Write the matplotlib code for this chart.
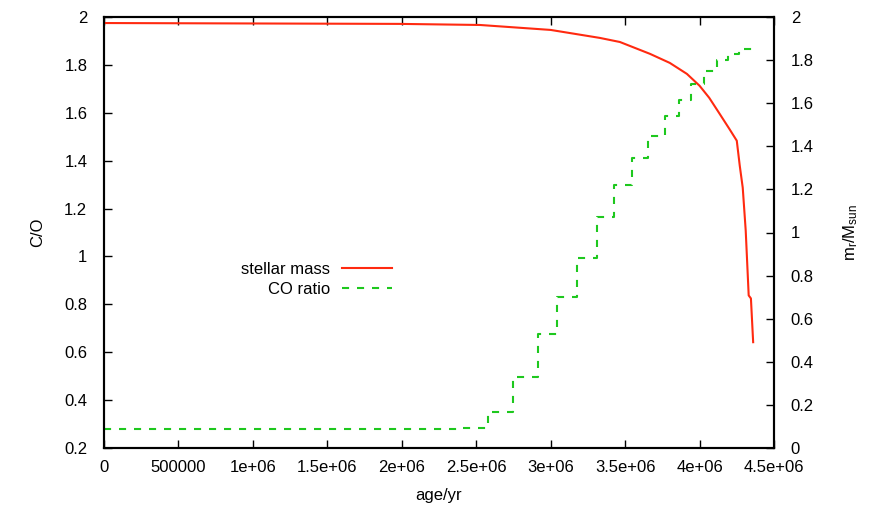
import numpy as np
import matplotlib
matplotlib.use("Agg")
import matplotlib.pyplot as plt

plt.rcParams['font.family'] = ['Liberation Sans', 'DejaVu Sans']
plt.rcParams['mathtext.fontset'] = 'custom'
plt.rcParams['mathtext.rm'] = 'Liberation Sans'
plt.rcParams['mathtext.it'] = 'Liberation Sans'

# stellar mass (right axis, m_r/M_sun)
mass_age = [0, 1.99e6, 2.525e6, 3.0e6, 3.33e6, 3.465e6, 3.667e6, 3.80e6, 3.915e6,
            4.0e6, 4.065e6, 4.13e6, 4.20e6, 4.25e6, 4.27e6, 4.29e6, 4.31e6,
            4.33e6, 4.345e6, 4.36e6]
mass = [1.972, 1.968, 1.963, 1.940, 1.903, 1.884, 1.829, 1.787, 1.736,
        1.681, 1.625, 1.556, 1.481, 1.426, 1.310, 1.208, 1.009,
        0.708, 0.694, 0.491]

# C/O ratio (left axis), step function
co_age = [0, 2.37e6, 2.58e6, 2.745e6, 2.915e6, 3.04e6, 3.18e6, 3.31e6, 3.425e6,
          3.545e6, 3.655e6, 3.77e6, 3.86e6, 3.94e6, 4.03e6, 4.115e6, 4.19e6,
          4.265e6, 4.36e6]
co_ratio = [0.279, 0.283, 0.35, 0.496, 0.675, 0.829, 0.992, 1.164, 1.30,
            1.4125, 1.504, 1.588, 1.653, 1.72, 1.775, 1.82, 1.847,
            1.865, 1.865]

xticks = [0, 5e5, 1e6, 1.5e6, 2e6, 2.5e6, 3e6, 3.5e6, 4e6, 4.5e6]
xlabels = ['0', '500000', '1e+06', '1.5e+06', '2e+06', '2.5e+06', '3e+06',
           '3.5e+06', '4e+06', '4.5e+06']
left_ticks = [0.2, 0.4, 0.6, 0.8, 1.0, 1.2, 1.4, 1.6, 1.8, 2.0]
right_ticks = [0, 0.2, 0.4, 0.6, 0.8, 1.0, 1.2, 1.4, 1.6, 1.8, 2.0]

red = '#ff2a10'
green = '#1ec81e'
fs = 12

fig = plt.figure(figsize=(8.7, 5.12), dpi=100)
ax = fig.add_axes([104 / 870, 64 / 512, 670 / 870, 431 / 512])
ax2 = ax.twinx()

l1, = ax2.plot(mass_age, mass, color=red, lw=1.5, label='stellar mass')
l2, = ax.plot(co_age, co_ratio, color=green, lw=1.5, drawstyle='steps-post',
              dashes=(3.4, 3.8), label='CO ratio')

ax.set_xlim(0, 4.5e6)
ax.set_ylim(0.2, 2)
ax2.set_ylim(0, 2)

ax.set_xticks(xticks)
ax.set_xticklabels(xlabels)
ax.set_yticks(left_ticks)
ax.set_yticklabels(['%g' % v for v in left_ticks])
ax2.set_yticks(right_ticks)
ax2.set_yticklabels(['%g' % v for v in right_ticks])

ax.tick_params(axis='x', direction='in', top=True, length=6, width=1, labelsize=fs, pad=9)
ax.tick_params(axis='y', direction='in', length=6, width=1, labelsize=fs, pad=12)
ax2.tick_params(axis='y', direction='in', length=6, width=1, labelsize=fs, pad=12)

for a in (ax, ax2):
    for s in a.spines.values():
        s.set_linewidth(1.5)

ax.set_xlabel('age/yr', fontsize=fs, labelpad=9)
ax.set_ylabel('C/O', fontsize=fs, labelpad=14)
ax2.set_ylabel(r'm$_\mathrm{r}$/M$_\mathrm{sun}$', fontsize=fs, labelpad=20)

ax2.legend([l1, l2], ['stellar mass', 'CO ratio'], loc='center right',
           bbox_to_anchor=(0.43, 0.391), frameon=False, markerfirst=False,
           fontsize=fs, handlelength=3.0, labelspacing=0.3, handletextpad=0.7,
           borderaxespad=0, borderpad=0)

fig.savefig('out.png', dpi=100)
